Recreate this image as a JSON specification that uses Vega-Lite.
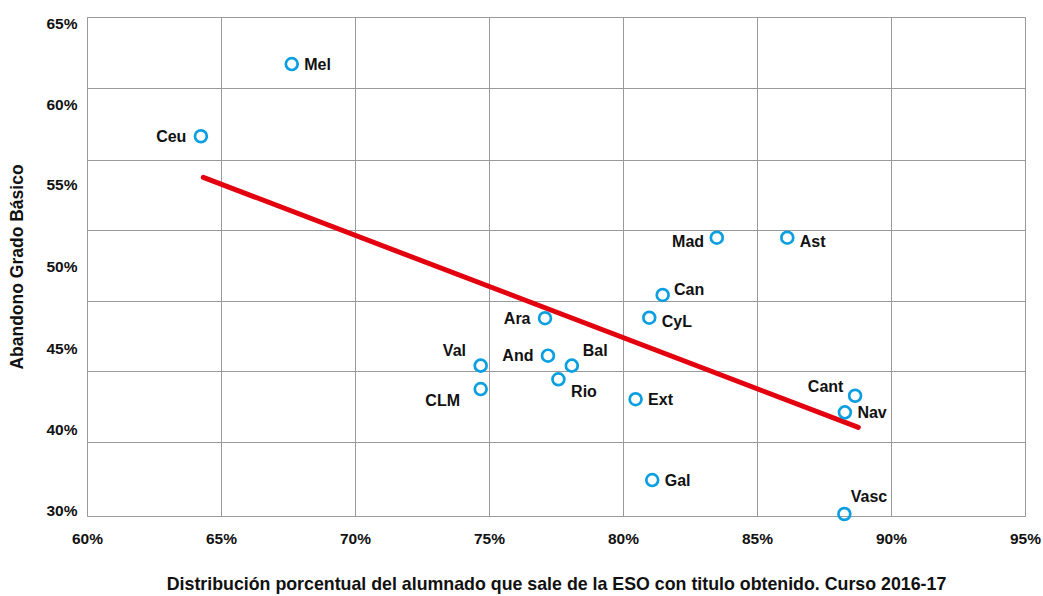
{
  "$schema": "https://vega.github.io/schema/vega-lite/v6.json",
  "width": 938,
  "height": 499,
  "autosize": {"type": "none"},
  "padding": {"left": 87, "top": 17, "right": 18, "bottom": 80},
  "background": "white",
  "config": {
    "view": {"stroke": "#9a9a9a", "strokeWidth": 1},
    "font": "Liberation Sans",
    "axis": {
      "labelFont": "Liberation Sans",
      "labelFontWeight": "bold",
      "labelFontSize": 15.5,
      "labelColor": "#111111",
      "titleFont": "Liberation Sans",
      "titleFontWeight": "bold",
      "titleFontSize": 17,
      "titleColor": "#111111",
      "gridColor": "#9a9a9a",
      "gridOpacity": 1,
      "gridWidth": 1
    }
  },
  "datasets": {
    "pts": [
      {"name": "Mel", "x": 67.64, "y": 62.17},
      {"name": "Ceu", "x": 64.25, "y": 57.83},
      {"name": "Mad", "x": 83.50, "y": 51.73},
      {"name": "Ast", "x": 86.13, "y": 51.73},
      {"name": "Can", "x": 81.48, "y": 48.29},
      {"name": "CyL", "x": 80.98, "y": 46.92},
      {"name": "Ara", "x": 77.09, "y": 46.89},
      {"name": "And", "x": 77.20, "y": 44.64},
      {"name": "Bal", "x": 78.09, "y": 44.04},
      {"name": "Val", "x": 74.69, "y": 44.04},
      {"name": "Rio", "x": 77.59, "y": 43.22},
      {"name": "CLM", "x": 74.69, "y": 42.63},
      {"name": "Ext", "x": 80.47, "y": 42.02},
      {"name": "Cant", "x": 88.66, "y": 42.23},
      {"name": "Nav", "x": 88.28, "y": 41.23},
      {"name": "Gal", "x": 81.09, "y": 37.16},
      {"name": "Vasc", "x": 88.26, "y": 35.12}
    ],
    "trend": [
      {"x": 64.34, "y": 55.36},
      {"x": 88.78, "y": 40.33}
    ]
  },
  "layer": [
    {
      "data": {"name": "trend"},
      "mark": {"type": "line", "color": "#E3000F", "strokeWidth": 5, "strokeCap": "round"},
      "encoding": {
        "x": {
          "field": "x", "type": "quantitative",
          "scale": {"domain": [60, 95], "nice": false, "zero": false},
          "axis": {
            "values": [60, 65, 70, 75, 80, 85, 90, 95],
            "labelExpr": "datum.value + '%'",
            "grid": true, "ticks": false, "domain": false,
            "labelFlush": false, "labelOverlap": false,
            "labelPadding": 15,
            "title": "Distribución porcentual del alumnado que sale de la ESO con titulo obtenido. Curso 2016-17",
            "titleFontSize": 17.8,
            "titlePadding": 29
          }
        },
        "y": {
          "field": "y", "type": "quantitative",
          "scale": {"domain": [35, 65], "nice": false, "zero": false},
          "axis": {
            "orient": "right",
            "values": [60.71, 56.43, 52.17, 47.9, 43.7, 39.45],
            "grid": true, "labels": false, "ticks": false, "domain": false, "title": null
          }
        }
      }
    },
    {
      "data": {"name": "pts"},
      "mark": {"type": "point", "shape": "circle", "filled": false, "color": "#0A9FE0", "strokeWidth": 2.7, "size": 140, "opacity": 1},
      "encoding": {
        "x": {"field": "x", "type": "quantitative"},
        "y": {
          "field": "y", "type": "quantitative",
          "axis": {
            "orient": "left",
            "values": [64.58, 59.74, 54.9, 50.03, 45.1, 40.23, 35.32],
            "labelExpr": "datum.value > 62 ? '65%' : datum.value > 57 ? '60%' : datum.value > 52 ? '55%' : datum.value > 47 ? '50%' : datum.value > 42 ? '45%' : datum.value > 37 ? '40%' : '30%'",
            "grid": false, "ticks": false, "domain": false,
            "labelFlush": false, "labelOverlap": false,
            "labelPadding": 10,
            "title": "Abandono Grado Básico",
            "titleFontSize": 17.5,
            "titlePadding": 19
          }
        }
      }
    },
    {
      "data": {"name": "pts"},
      "transform": [{"filter": {"field": "name", "oneOf": ["Mel", "Ext", "Gal", "Nav"]}}],
      "mark": {"type": "text", "align": "left", "baseline": "middle", "dx": 12.5, "dy": 1, "fontSize": 16, "fontWeight": "bold", "font": "Liberation Sans", "color": "#111111"},
      "encoding": {"x": {"field": "x", "type": "quantitative"}, "y": {"field": "y", "type": "quantitative", "axis": null}, "text": {"field": "name"}}
    },
    {
      "data": {"name": "pts"},
      "transform": [{"filter": {"field": "name", "oneOf": ["Ast", "CyL"]}}],
      "mark": {"type": "text", "align": "left", "baseline": "middle", "dx": 12.5, "dy": 4, "fontSize": 16, "fontWeight": "bold", "font": "Liberation Sans", "color": "#111111"},
      "encoding": {"x": {"field": "x", "type": "quantitative"}, "y": {"field": "y", "type": "quantitative", "axis": null}, "text": {"field": "name"}}
    },
    {
      "data": {"name": "pts"},
      "transform": [{"filter": {"field": "name", "oneOf": ["Ceu", "Ara", "And"]}}],
      "mark": {"type": "text", "align": "right", "baseline": "middle", "dx": -14.5, "dy": 0.5, "fontSize": 16, "fontWeight": "bold", "font": "Liberation Sans", "color": "#111111"},
      "encoding": {"x": {"field": "x", "type": "quantitative"}, "y": {"field": "y", "type": "quantitative", "axis": null}, "text": {"field": "name"}}
    },
    {
      "data": {"name": "pts"},
      "transform": [{"filter": {"field": "name", "oneOf": ["Mad"]}}],
      "mark": {"type": "text", "align": "right", "baseline": "middle", "dx": -12.7, "dy": 4, "fontSize": 16, "fontWeight": "bold", "font": "Liberation Sans", "color": "#111111"},
      "encoding": {"x": {"field": "x", "type": "quantitative"}, "y": {"field": "y", "type": "quantitative", "axis": null}, "text": {"field": "name"}}
    },
    {
      "data": {"name": "pts"},
      "transform": [{"filter": {"field": "name", "oneOf": ["Can"]}}],
      "mark": {"type": "text", "align": "left", "baseline": "middle", "dx": 11.3, "dy": -5, "fontSize": 16, "fontWeight": "bold", "font": "Liberation Sans", "color": "#111111"},
      "encoding": {"x": {"field": "x", "type": "quantitative"}, "y": {"field": "y", "type": "quantitative", "axis": null}, "text": {"field": "name"}}
    },
    {
      "data": {"name": "pts"},
      "transform": [{"filter": {"field": "name", "oneOf": ["Bal"]}}],
      "mark": {"type": "text", "align": "left", "baseline": "middle", "dx": 11, "dy": -14.7, "fontSize": 16, "fontWeight": "bold", "font": "Liberation Sans", "color": "#111111"},
      "encoding": {"x": {"field": "x", "type": "quantitative"}, "y": {"field": "y", "type": "quantitative", "axis": null}, "text": {"field": "name"}}
    },
    {
      "data": {"name": "pts"},
      "transform": [{"filter": {"field": "name", "oneOf": ["Vasc"]}}],
      "mark": {"type": "text", "align": "left", "baseline": "middle", "dx": 6.4, "dy": -17.3, "fontSize": 16, "fontWeight": "bold", "font": "Liberation Sans", "color": "#111111"},
      "encoding": {"x": {"field": "x", "type": "quantitative"}, "y": {"field": "y", "type": "quantitative", "axis": null}, "text": {"field": "name"}}
    },
    {
      "data": {"name": "pts"},
      "transform": [{"filter": {"field": "name", "oneOf": ["Val"]}}],
      "mark": {"type": "text", "align": "right", "baseline": "middle", "dx": -14.7, "dy": -14.7, "fontSize": 16, "fontWeight": "bold", "font": "Liberation Sans", "color": "#111111"},
      "encoding": {"x": {"field": "x", "type": "quantitative"}, "y": {"field": "y", "type": "quantitative", "axis": null}, "text": {"field": "name"}}
    },
    {
      "data": {"name": "pts"},
      "transform": [{"filter": {"field": "name", "oneOf": ["Cant"]}}],
      "mark": {"type": "text", "align": "right", "baseline": "middle", "dx": -11.7, "dy": -8.4, "fontSize": 16, "fontWeight": "bold", "font": "Liberation Sans", "color": "#111111"},
      "encoding": {"x": {"field": "x", "type": "quantitative"}, "y": {"field": "y", "type": "quantitative", "axis": null}, "text": {"field": "name"}}
    },
    {
      "data": {"name": "pts"},
      "transform": [{"filter": {"field": "name", "oneOf": ["Rio"]}}],
      "mark": {"type": "text", "align": "left", "baseline": "middle", "dx": 12.7, "dy": 12.4, "fontSize": 16, "fontWeight": "bold", "font": "Liberation Sans", "color": "#111111"},
      "encoding": {"x": {"field": "x", "type": "quantitative"}, "y": {"field": "y", "type": "quantitative", "axis": null}, "text": {"field": "name"}}
    },
    {
      "data": {"name": "pts"},
      "transform": [{"filter": {"field": "name", "oneOf": ["CLM"]}}],
      "mark": {"type": "text", "align": "right", "baseline": "middle", "dx": -20.7, "dy": 11.7, "fontSize": 16, "fontWeight": "bold", "font": "Liberation Sans", "color": "#111111"},
      "encoding": {"x": {"field": "x", "type": "quantitative"}, "y": {"field": "y", "type": "quantitative", "axis": null}, "text": {"field": "name"}}
    }
  ],
  "resolve": {"axis": {"y": "independent"}}
}
